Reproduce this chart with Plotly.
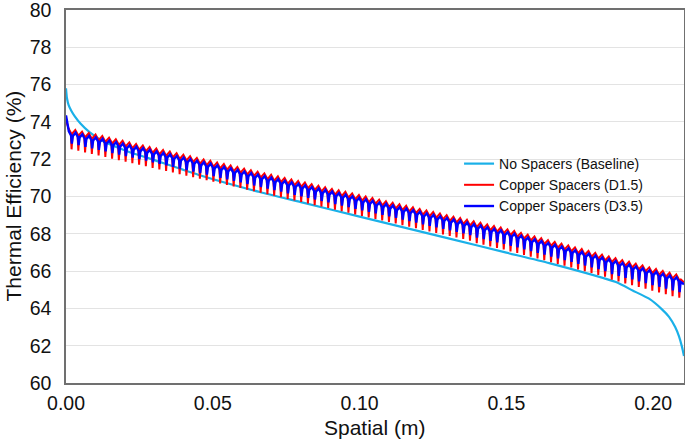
import plotly.graph_objects as go

# ---------------- data ----------------
baseline_x = [0.0, 0.0003, 0.0009, 0.0018, 0.003, 0.005, 0.008, 0.0122, 0.0213, 0.0286,
              0.045, 0.066, 0.08, 0.10, 0.1306, 0.15, 0.1646, 0.1873, 0.193, 0.1986,
              0.2030, 0.2054, 0.2075, 0.2088, 0.2098, 0.2105]
baseline_y = [75.8, 75.3, 74.9, 74.6, 74.3, 73.9, 73.45, 73.0, 72.4, 72.03,
              71.17, 70.24, 69.7, 68.92, 67.74, 66.99, 66.43, 65.41, 64.96, 64.52,
              63.95, 63.55, 63.0, 62.5, 61.95, 61.45]

spacer_x = [0.0020, 0.0043, 0.0066, 0.0089, 0.0112, 0.0135, 0.0158, 0.0181, 0.0204, 0.0227,
            0.0250, 0.0273, 0.0296, 0.0319, 0.0342, 0.0365, 0.0388, 0.0411, 0.0434, 0.0457,
            0.0480, 0.0503, 0.0526, 0.0549, 0.0572, 0.0595, 0.0618, 0.0641, 0.0664, 0.0687,
            0.0710, 0.0733, 0.0756, 0.0779, 0.0802, 0.0825, 0.0848, 0.0871, 0.0894, 0.0917,
            0.0940, 0.0963, 0.0986, 0.1009, 0.1032, 0.1055, 0.1078, 0.1101, 0.1124, 0.1147,
            0.1170, 0.1193, 0.1216, 0.1239, 0.1262, 0.1285, 0.1308, 0.1331, 0.1354, 0.1377,
            0.1400, 0.1423, 0.1446, 0.1469, 0.1492, 0.1515, 0.1538, 0.1561, 0.1584, 0.1607,
            0.1630, 0.1653, 0.1676, 0.1699, 0.1722, 0.1745, 0.1768, 0.1791, 0.1814, 0.1837,
            0.1860, 0.1883, 0.1906, 0.1929, 0.1952, 0.1975, 0.1998, 0.2021, 0.2044, 0.2067,
            0.2090]

d15_start = 74.08
d15_end = 65.40
d15_peak = [73.65, 73.57, 73.48, 73.40, 73.32, 73.24, 73.15, 73.07, 72.99, 72.90,
            72.82, 72.74, 72.65, 72.57, 72.49, 72.41, 72.32, 72.24, 72.16, 72.07,
            71.99, 71.91, 71.82, 71.74, 71.66, 71.58, 71.49, 71.41, 71.33, 71.24,
            71.16, 71.08, 70.99, 70.91, 70.83, 70.75, 70.66, 70.58, 70.50, 70.41,
            70.33, 70.25, 70.16, 70.08, 70.00, 69.92, 69.83, 69.75, 69.67, 69.58,
            69.50, 69.42, 69.33, 69.25, 69.17, 69.09, 69.00, 68.92, 68.84, 68.75,
            68.67, 68.59, 68.50, 68.42, 68.34, 68.24, 68.15, 68.05, 67.95, 67.86,
            67.76, 67.66, 67.56, 67.47, 67.37, 67.27, 67.18, 67.08, 66.98, 66.88,
            66.79, 66.69, 66.59, 66.50, 66.40, 66.30, 66.20, 66.11, 66.01, 65.91,
            65.82]
d15_trough = [72.53, 72.45, 72.36, 72.28, 72.20, 72.12, 72.03, 71.95, 71.87, 71.78,
              71.70, 71.62, 71.53, 71.45, 71.37, 71.29, 71.20, 71.12, 71.04, 70.95,
              70.87, 70.79, 70.70, 70.62, 70.54, 70.46, 70.37, 70.29, 70.21, 70.12,
              70.04, 69.96, 69.87, 69.79, 69.71, 69.63, 69.54, 69.46, 69.38, 69.29,
              69.21, 69.13, 69.04, 68.96, 68.88, 68.80, 68.71, 68.63, 68.55, 68.46,
              68.38, 68.30, 68.21, 68.13, 68.05, 67.97, 67.88, 67.80, 67.72, 67.63,
              67.49, 67.41, 67.32, 67.24, 67.16, 67.06, 66.97, 66.87, 66.77, 66.68,
              66.58, 66.48, 66.38, 66.29, 66.19, 66.09, 66.00, 65.90, 65.80, 65.70,
              65.54, 65.44, 65.34, 65.25, 65.15, 65.05, 64.95, 64.86, 64.76, 64.66,
              64.57]

d35_start = 74.35
d35_end = 65.30
d35_peak = [73.50, 73.42, 73.33, 73.25, 73.17, 73.09, 73.00, 72.92, 72.84, 72.75,
            72.67, 72.59, 72.50, 72.42, 72.34, 72.26, 72.17, 72.09, 72.01, 71.92,
            71.84, 71.76, 71.67, 71.59, 71.51, 71.43, 71.34, 71.26, 71.18, 71.09,
            71.01, 70.93, 70.84, 70.76, 70.68, 70.60, 70.51, 70.43, 70.35, 70.26,
            70.18, 70.10, 70.01, 69.93, 69.85, 69.77, 69.68, 69.60, 69.52, 69.43,
            69.35, 69.27, 69.18, 69.10, 69.02, 68.94, 68.85, 68.77, 68.69, 68.60,
            68.52, 68.44, 68.35, 68.27, 68.19, 68.09, 68.00, 67.90, 67.80, 67.71,
            67.61, 67.51, 67.41, 67.32, 67.22, 67.12, 67.03, 66.93, 66.83, 66.73,
            66.64, 66.54, 66.44, 66.35, 66.25, 66.15, 66.05, 65.96, 65.86, 65.76,
            65.67]
d35_trough = [72.83, 72.75, 72.66, 72.58, 72.50, 72.42, 72.33, 72.25, 72.17, 72.08,
              72.00, 71.92, 71.83, 71.75, 71.67, 71.59, 71.50, 71.42, 71.34, 71.25,
              71.17, 71.09, 71.00, 70.92, 70.84, 70.76, 70.67, 70.59, 70.51, 70.42,
              70.34, 70.26, 70.17, 70.09, 70.01, 69.93, 69.84, 69.76, 69.68, 69.59,
              69.51, 69.43, 69.34, 69.26, 69.18, 69.10, 69.01, 68.93, 68.85, 68.76,
              68.68, 68.60, 68.51, 68.43, 68.35, 68.27, 68.18, 68.10, 68.02, 67.93,
              67.79, 67.71, 67.62, 67.54, 67.46, 67.36, 67.27, 67.17, 67.07, 66.98,
              66.88, 66.78, 66.68, 66.59, 66.49, 66.39, 66.30, 66.20, 66.10, 66.00,
              65.84, 65.74, 65.64, 65.55, 65.45, 65.35, 65.25, 65.16, 65.06, 64.96,
              64.87]

x_ticks = [0.0, 0.05, 0.10, 0.15, 0.20]
x_tick_labels = ["0.00", "0.05", "0.10", "0.15", "0.20"]
y_ticks = [60, 62, 64, 66, 68, 70, 72, 74, 76, 78, 80]

x_end = 0.2105
pitch = 0.0023


def build(start, peaks, troughs, end, shift):
    xs, ys = [0.0], [start]
    for sx, pk, tr in zip(spacer_x, peaks, troughs):
        c = sx + shift
        xs += [c - 0.45 * pitch, c - 0.12 * pitch, c, c + 0.15 * pitch]
        ys += [pk, pk - 0.22, tr, pk - 0.25]
    xs.append(x_end)
    ys.append(end)
    return xs, ys


rx, ry = build(d15_start, d15_peak, d15_trough, d15_end, -0.0001)
bx, by = build(d35_start, d35_peak, d35_trough, d35_end, 0.0)

FONT = "Arial, Liberation Sans, Helvetica, sans-serif"

W, H = 685, 441
ML, MR, MT, MB = 66, 1, 10, 58
plot_w = W - ML - MR
plot_h = H - MT - MB

fig = go.Figure()
fig.add_trace(go.Scatter(x=baseline_x, y=baseline_y, mode="lines",
                         name="No Spacers (Baseline)",
                         line=dict(color="#1AB0E8", width=2.2, shape="spline", smoothing=0.5)))
fig.add_trace(go.Scatter(x=rx, y=ry, mode="lines", name="Copper Spacers (D1.5)",
                         line=dict(color="#FF0000", width=2)))
fig.add_trace(go.Scatter(x=bx, y=by, mode="lines", name="Copper Spacers (D3.5)",
                         line=dict(color="#0000FF", width=2.4)))

fig.update_layout(
    width=W, height=H,
    margin=dict(l=ML, r=MR, t=MT, b=MB, autoexpand=False),
    paper_bgcolor="white", plot_bgcolor="white",
    font=dict(family=FONT, color="#111111"),
    showlegend=True,
    legend=dict(x=0.636, y=0.63, xanchor="left", yanchor="top",
                bgcolor="rgba(255,255,255,0)", font=dict(size=14, family=FONT),
                tracegroupgap=0),
    annotations=[
        dict(text="Spatial (m)", x=0.5, xref="paper", y=(H - MB - 427) / plot_h, yref="paper",
             showarrow=False, font=dict(size=21, family=FONT, color="#111111"),
             xanchor="center", yanchor="middle"),
        dict(text="Thermal Efficiency (%)", x=(13 - ML) / plot_w, xref="paper", y=0.5, yref="paper",
             showarrow=False, textangle=-90, font=dict(size=21, family=FONT, color="#111111"),
             xanchor="center", yanchor="middle"),
    ],
)

fig.update_xaxes(range=[0, x_end], tickvals=x_ticks, ticktext=x_tick_labels,
                 showgrid=False, zeroline=False, automargin=False,
                 showline=True, linecolor="#707070", linewidth=1.5, mirror=True,
                 ticks="", ticklabelstandoff=2, ticklabeloverflow="allow",
                 tickfont=dict(size=19.5, family=FONT))
fig.update_yaxes(range=[60, 80], tickvals=y_ticks,
                 showgrid=True, gridcolor="#E3E3E3", gridwidth=1, zeroline=False,
                 automargin=False,
                 showline=True, linecolor="#707070", linewidth=1.5, mirror=True,
                 ticks="", ticklabelstandoff=9, ticklabeloverflow="allow",
                 tickfont=dict(size=19.5, family=FONT))

fig.write_html("out.html", config={"displayModeBar": False},
               post_script="document.body.style.margin='0px';document.body.style.padding='0px';")
